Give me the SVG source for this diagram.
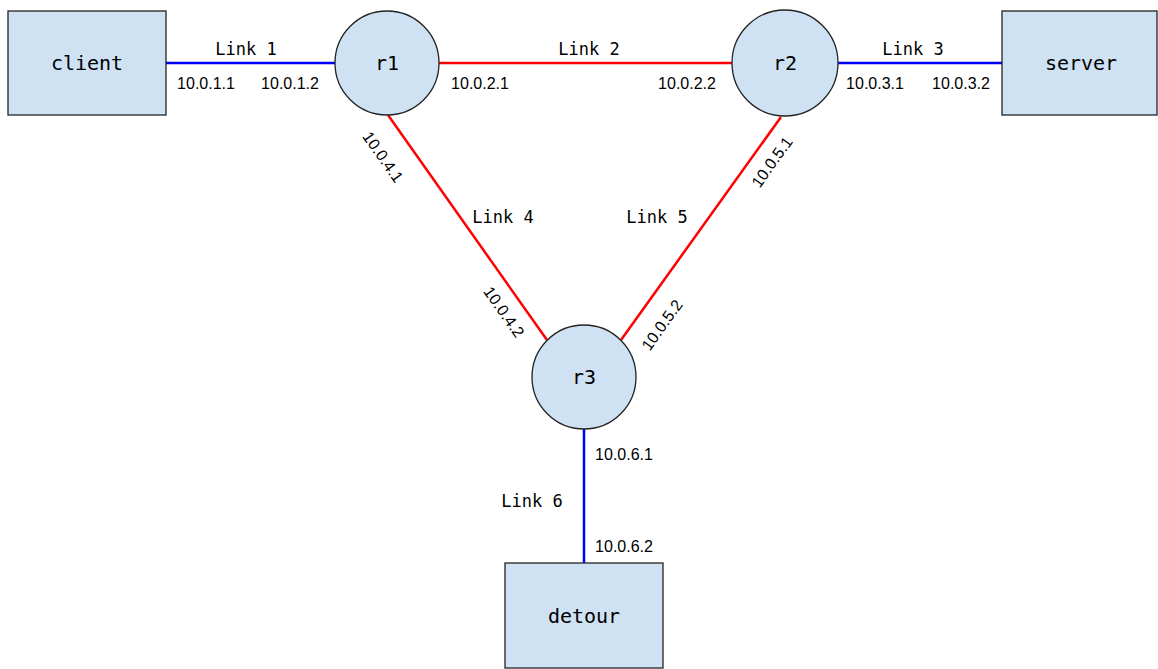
<svg xmlns="http://www.w3.org/2000/svg" width="1158" height="669" viewBox="0 0 1158 669">
<style>
.box{fill:#cfe2f3;stroke:#222;stroke-width:1.3}
.node{font-family:"DejaVu Sans Mono","Liberation Mono",monospace;font-size:20px;fill:#000;text-anchor:middle;dominant-baseline:central}
.lnk{font-family:"DejaVu Sans Mono","Liberation Mono",monospace;font-size:17px;fill:#000;text-anchor:middle}
.ip{font-family:"Liberation Sans",Arial,sans-serif;font-size:16px;fill:#000;text-anchor:middle}
.ipr{font-family:"Liberation Sans",Arial,sans-serif;font-size:16px;fill:#000;text-anchor:middle;dominant-baseline:central}
.blue{stroke:#0000ff;stroke-width:2.5;fill:none}
.red{stroke:#ff0000;stroke-width:2.5;fill:none}
</style>
<rect width="1158" height="669" fill="#ffffff"/>
<g id="connectors">
<line class="blue" x1="166" y1="63" x2="335" y2="63"/>
<line class="red" x1="439" y1="63" x2="732" y2="63"/>
<line class="blue" x1="838" y1="63" x2="1002" y2="63"/>
<line class="red" x1="388" y1="115" x2="547" y2="340"/>
<line class="red" x1="781" y1="117" x2="621" y2="340"/>
<line class="blue" x1="584" y1="429" x2="584" y2="563"/>
</g>
<g id="labels">
<text class="lnk" x="246" y="55">Link 1</text>
<text class="ip" x="206" y="89">10.0.1.1</text>
<text class="ip" x="290" y="89">10.0.1.2</text>
<text class="lnk" x="589" y="55">Link 2</text>
<text class="ip" x="480" y="89">10.0.2.1</text>
<text class="ip" x="687" y="89">10.0.2.2</text>
<text class="lnk" x="913" y="55">Link 3</text>
<text class="ip" x="875" y="89">10.0.3.1</text>
<text class="ip" x="961" y="89">10.0.3.2</text>
<text class="lnk" x="503" y="223">Link 4</text>
<text class="lnk" x="657" y="223">Link 5</text>
<text class="ipr" transform="translate(383,157) rotate(54.7)">10.0.4.1</text>
<text class="ipr" transform="translate(504,312) rotate(54.7)">10.0.4.2</text>
<text class="ipr" transform="translate(772,162) rotate(-54.4)">10.0.5.1</text>
<text class="ipr" transform="translate(662,325) rotate(-54.4)">10.0.5.2</text>
<text class="lnk" x="532" y="507">Link 6</text>
<text class="ip" x="624" y="460">10.0.6.1</text>
<text class="ip" x="624" y="552">10.0.6.2</text>
</g>
<g id="client"><rect class="box" x="8" y="11" width="158" height="104"/><text class="node" x="87" y="63">client</text></g>
<g id="r1"><circle class="box" cx="387" cy="63" r="52"/><text class="node" x="387" y="63">r1</text></g>
<g id="r2"><circle class="box" cx="785" cy="63" r="53"/><text class="node" x="785" y="63">r2</text></g>
<g id="server"><rect class="box" x="1002" y="11" width="155" height="104"/><text class="node" x="1081" y="63">server</text></g>
<g id="r3"><circle class="box" cx="584" cy="377" r="52"/><text class="node" x="584" y="377">r3</text></g>
<g id="detour"><rect class="box" x="505" y="563" width="158" height="105"/><text class="node" x="584" y="616">detour</text></g>
</svg>
